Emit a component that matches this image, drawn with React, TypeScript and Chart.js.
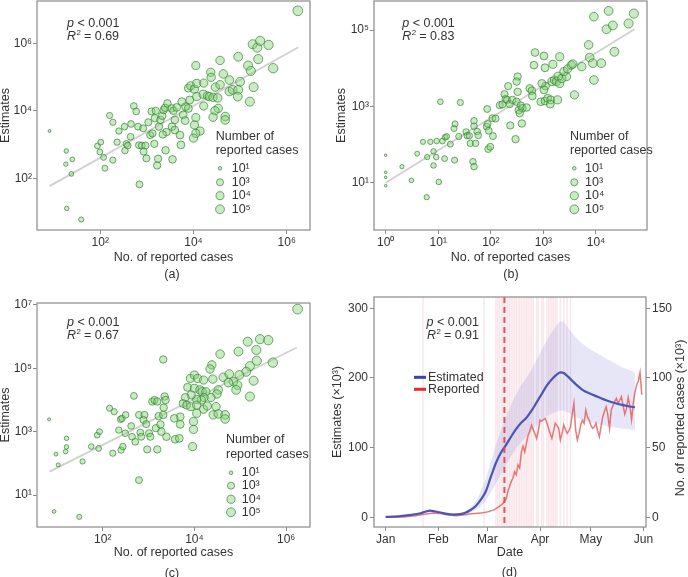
import React, { useEffect, useRef } from 'react';
import { Chart, registerables } from 'chart.js';

Chart.register(...registerables);

const FONT = '"Liberation Sans", Arial, Helvetica, sans-serif';
const TEXT = '#333333';
const FRAME = '#8a8a8a';
const FILL = 'rgba(135, 208, 120, 0.45)';
const EDGE = 'rgba(40, 125, 40, 0.72)';
const FIT = '#d0d0d0';
const BLUE = '#4a55b6';
const RED_LINE = 'rgba(226, 84, 84, 0.78)';
const BAND = 'rgba(140, 140, 215, 0.22)';

Chart.defaults.font.family = FONT;
Chart.defaults.color = TEXT;

// ---------------- panel (a): log10 values ----------------
const reportedLogA = [0.91,1.27,1.26,1.40,1.38,1.28,1.59,1.94,2.01,1.99,2.07,2.10,2.20,2.27,2.36,2.40,2.52,2.56,2.53,2.72,2.77,2.65,2.66,2.59,2.27,2.81,2.83,2.84,2.89,2.97,2.93,2.99,2.92,3.03,3.10,3.19,3.17,3.07,3.12,3.16,3.22,3.24,3.26,3.29,3.33,3.36,3.39,3.44,3.42,3.34,3.40,3.54,3.55,3.53,3.57,3.60,3.64,3.71,3.78,3.82,3.83,3.89,3.92,3.75,3.89,3.94,4.02,4.05,4.07,4.22,4.07,4.21,4.30,4.34,4.42,4.52,4.22,4.53,4.46,4.42,4.68,4.68,4.05,4.02,4.14,4.05,4.00,4.37,4.38,4.47,4.57,4.57,4.64,4.77,4.77,4.84,4.96,5.00,4.96,4.95,5.17,5.23,5.29,5.21,5.27,5.37,5.43,5.61,5.39,5.71,6.24,3.60,3.73];
const estimatesLogA = [3.40,2.81,2.42,2.56,2.13,1.11,0.78,2.96,3.07,2.78,2.62,2.30,3.86,3.66,3.07,3.40,3.53,3.02,2.82,4.14,3.98,3.23,3.61,2.97,2.54,3.53,2.98,1.82,2.97,2.97,2.79,2.59,3.48,3.66,3.98,4.00,3.78,3.28,3.33,3.02,2.38,2.58,3.53,3.73,3.85,4.02,4.09,4.22,3.37,3.30,2.83,3.53,2.56,4.07,4.00,3.73,4.10,3.28,3.88,3.71,4.12,4.07,4.32,4.27,4.67,4.74,4.64,5.34,4.81,4.82,4.42,4.49,4.44,4.42,4.40,4.38,4.14,4.07,4.00,3.81,3.83,3.73,3.80,3.58,3.40,3.33,3.19,5.14,4.99,4.70,5.49,4.77,5.09,4.91,4.57,4.62,4.62,4.86,5.60,4.42,5.34,5.18,4.70,4.27,5.97,5.87,6.07,5.95,5.53,5.26,6.96,3.43,2.99];
const fitLogAx = [0.91, 6.25];
const fitLogAy = [1.77, 5.88];
const r2A = '0.69';

// ---------------- panel (b) ----------------
const reportedLogB = [0,0,0,0,0.31,0.49,0.60,0.71,0.79,0.78,0.85,0.91,0.96,0.97,0.91,1.01,1.04,1.08,1.12,1.13,1.16,1.23,1.31,1.30,1.32,1.39,1.42,1.53,1.55,1.59,1.61,1.68,1.68,1.66,1.68,1.74,1.76,1.71,1.93,1.92,1.94,1.96,1.95,1.99,2.03,2.04,2.09,2.17,2.22,2.26,2.28,2.33,2.31,2.36,2.37,2.51,2.49,2.51,2.41,2.49,2.57,2.53,2.60,2.68,2.55,2.59,2.47,2.74,2.78,2.79,2.84,2.82,3.01,3.03,3.18,3.31,3.04,2.97,3.01,2.95,3.03,3.08,3.14,3.27,3.13,3.16,3.21,3.25,3.28,3.31,3.35,3.44,3.39,3.46,3.53,3.56,3.59,3.73,3.88,3.86,3.94,3.96,4.10,4.35,3.96,4.24,4.20,4.32,4.62,4.72];
const estimatesLogB = [1.72,1.27,1.14,0.92,1.42,1.06,1.76,2.07,1.67,0.62,2.07,1.82,1.67,2.09,1.45,1.02,3.12,2.09,1.63,2.19,2.21,2.01,1.59,2.42,2.54,2.21,3.10,2.33,2.23,2.23,2.03,2.62,2.48,1.55,1.42,2.34,2.24,2.03,2.93,2.47,2.54,2.36,1.88,1.94,2.69,2.22,2.68,3.03,3.05,3.32,3.19,3.53,3.17,3.06,2.50,3.78,3.65,3.38,3.17,3.12,3.02,2.90,2.95,2.97,2.82,2.55,2.14,3.47,3.41,3.27,4.41,4.08,4.32,4.01,4.10,4.30,3.53,3.60,3.43,3.12,3.14,3.21,3.17,3.17,3.06,3.65,3.69,3.65,3.79,3.60,3.73,3.78,3.91,3.98,4.08,4.11,3.30,4.04,4.28,4.61,4.13,3.69,4.13,4.43,5.35,5.50,5.02,5.12,5.17,5.43];
const fitLogBx = [0, 4.73];
const fitLogBy = [1.0, 5.02];
const r2B = '0.83';

// ---------------- panel (c) ----------------
const reportedLogC = [0.83,0.94,1.49,0.98,1.03,1.21,1.21,1.19,1.56,1.75,1.88,1.93,1.91,2.15,2.25,2.22,2.35,2.39,2.42,2.50,2.40,2.44,2.49,2.62,2.68,2.64,2.71,2.79,2.79,2.82,2.84,2.91,2.89,2.95,2.97,3.01,3.04,3.08,3.13,3.19,3.32,3.19,3.16,3.22,3.26,3.28,3.35,3.37,3.39,3.33,3.32,6.25,5.16,5.43,5.61,5.35,4.96,4.56,5.36,5.71,5.21,5.13,5.29,5.21,4.38,4.34,4.40,4.63,4.76,4.85,4.98,4.94,4.91,4.74,3.91,3.85,4.00,4.07,4.20,4.00,4.12,4.17,4.25,4.52,4.49,4.36,4.21,4.15,4.05,3.93,3.80,3.75,3.83,3.92,4.05,4.20,4.28,4.05,4.47,4.41,4.52,4.67,4.67,3.98,3.98,3.69,3.56,3.69,3.58,3.67,3.96];
const estimatesLogC = [3.39,0.48,0.31,2.29,1.95,2.79,2.52,2.37,2.06,2.53,2.89,3.00,2.47,3.74,3.63,2.32,3.05,3.39,3.42,3.53,2.42,2.53,2.95,3.18,4.13,2.84,2.68,1.47,3.53,2.97,2.84,3.53,3.37,3.24,2.44,2.95,2.84,3.95,4.00,3.95,5.28,2.44,3.11,3.49,3.23,3.00,4.11,4.00,2.84,3.76,3.53,6.87,5.84,5.92,5.89,5.58,5.53,5.45,5.24,5.18,5.07,4.89,4.61,4.11,5.11,4.98,4.66,4.72,4.82,4.58,4.79,4.47,4.32,4.55,4.68,4.40,4.79,4.68,4.63,4.37,4.32,4.26,4.26,4.32,4.19,4.08,4.08,4.00,4.02,4.16,4.08,3.89,3.84,3.79,3.84,3.71,3.81,3.58,3.79,3.53,3.56,3.53,3.40,3.32,3.07,3.47,3.42,3.23,2.76,2.79,2.53];
const fitLogCx = [0.84, 6.23];
const fitLogCy = [1.74, 5.66];
const r2C = '0.67';

// size legend (shared)
const legendTitleLines = ['Number of', 'reported cases'];
const legendExponents = [1, 3, 4, 5];
const legendLabels = ['10¹', '10³', '10⁴', '10⁵'];

// ---------------- panel (d) ----------------
const monthTickDays = [0, 31, 60, 91, 121, 152];
const monthLabels = ['Jan', 'Feb', 'Mar', 'Apr', 'May', 'Jun'];
const leftTicksD = [0, 100, 200, 300];
const rightTicksD = [0, 50, 100, 150];
const estDays = [0,5,10,15,20,24,26,28,30,33,36,40,44,47,50,53,56,59,62,65,68,71,74,77,80,83,86,89,92,95,98,101,103,105,107,110,113,116,120,125,130,135,140,144,147];
const estimated = [0.5,1,2,3.5,5.5,8.5,9.5,9,8,6.5,5,4,4.5,6.5,10.5,16,25,37,58,78,93,104,116,127,136,143,153,165,177,189,198,205,208,207,203,196,189,183,178,173,168,164,161,159,158];
const estUpper = [1,1.5,2.5,4,6.5,10,11,10.5,9.5,8,6.5,5.5,6.5,9.5,14,23,37,55,80,104,125,145,162,177,190,200,212,226,240,254,266,276,281,280,274,264,256,249,242,235,228,221,215,211,208];
const estLower = [0,0.5,1.5,3,4.5,7,8,7.5,6.5,5,4,3,3,4,6.5,10,16,24,36,49,62,75,88,99,108,116,124,132,139,145,149,152,153,153,151,147,143,140,137,134,131,129,127,126,125];
// daily reported cases (×10³), index = days since 1 Jan
const reportedDaily = [
  0,0,0,0.1,0.1,0.1,0.1,0.2,0.2,0.2,
  0.3,0.3,0.4,0.5,0.6,0.7,0.9,1.0,1.2,1.4,
  1.6,1.8,2.0,2.2,2.4,2.6,2.8,3.0,3.1,3.0,
  2.9,2.8,2.7,2.5,2.3,2.1,1.9,1.7,1.5,1.4,
  1.3,1.2,1.2,1.3,1.4,1.5,1.7,1.9,2.1,2.3,
  2.5,2.6,2.7,2.8,2.9,3.0,3.1,3.2,3.4,3.6,
  3.9,4.2,4.6,5.0,5.5,6.2,7.0,7.8,8.8,9.8,
  11.4,13,18.4,22,25.6,28,32.8,30.5,37.6,35.4,
  47,51,47,53,59,62,66,63,60,56.6,
  62,69.8,69,70,71,68,63.9,60,56.7,62,
  67.5,66,63.9,55.5,60,66.2,63,60.3,62,65,
  74,81.8,62.7,55.5,60,66.2,69.8,67.5,77,72,
  69.8,66,63.9,65,67.5,62,57.9,65,72.2,76,
  79.4,73.4,63.9,77,80,83,85.4,81.8,84,86.6,
  80,74,78,86,80,70,82,90,95,98,104,88,
];
const pandemicDay = 70;
const eventDays = [22,58,65,66,67,68,69,70,71,72,73,74,75,76,77,78,79,80,81,82,83,84,85,86,87,89,90,92,93,95,96,97,98,99,100,101,103,105,107,109];
const r2D = '0.91';

// ---------------- helpers ----------------
const LH = 12 * 1.2;

function drawStats(ctx: CanvasRenderingContext2D, x: number, y1: number, y2: number, r2: string, align: 'left' | 'right') {
  const it = `italic 12.5px ${FONT}`;
  const nm = `12.5px ${FONT}`;
  const sup = `8px ${FONT}`;
  ctx.save();
  ctx.fillStyle = TEXT;
  ctx.textBaseline = 'middle';
  ctx.textAlign = 'left';
  const rest1 = ' < 0.001';
  const rest2 = ' = ' + r2;
  ctx.font = it; const wp = ctx.measureText('p').width; const wR = ctx.measureText('R').width;
  ctx.font = sup; const ws = ctx.measureText('2').width;
  ctx.font = nm; const w1 = ctx.measureText(rest1).width; const w2 = ctx.measureText(rest2).width;
  const x1 = align === 'left' ? x : x - (wp + w1);
  const x2 = align === 'left' ? x : x - (wR + ws + w2);
  ctx.font = it; ctx.fillText('p', x1, y1);
  ctx.font = nm; ctx.fillText(rest1, x1 + wp, y1);
  ctx.font = it; ctx.fillText('R', x2, y2);
  ctx.font = sup; ctx.fillText('2', x2 + wR + 0.5, y2 - 4);
  ctx.font = nm; ctx.fillText(rest2, x2 + wR + ws, y2);
  ctx.restore();
}

const radiusA = (L: number) => 1.3 + 3.6 * Math.sqrt(Math.max(0, L - 0.9) / 5.4);
const radiusB = (L: number) => 1.3 + 3.3 * Math.sqrt(Math.max(0, L) / 4.7);
const radiusC = (L: number) => 1.3 + 3.6 * Math.sqrt(Math.max(0, L - 0.8) / 5.5);

type Rect = { x: number; y: number; w: number; h: number };
type Plot = { l: number; t: number; r: number; b: number };
type ScatterSpec = {
  canvas: Rect; plot: Plot;
  xs: number[]; ys: number[]; fitX: number[]; fitY: number[];
  xRange: number[]; yRange: number[];
  xTicks: number[]; xLabels: string[]; yTicks: number[]; yLabels: string[];
  radius: (L: number) => number;
  xTitleY: number; yTitleX: number;
  stats: { x: number; y1: number; y2: number; r2: string };
  legend: { tx: number; ty: number[]; cx: number; lx: number; cy: number[] };
};

const specA: ScatterSpec = {
  canvas: { x: -12, y: -12, w: 356, h: 302 }, plot: { l: 37, t: 1, r: 310, b: 230 },
  xs: reportedLogA, ys: estimatesLogA, fitX: fitLogAx, fitY: fitLogAy,
  xRange: [0.642, 6.5], yRange: [0.47, 7.25],
  xTicks: [1e2, 1e4, 1e6], xLabels: ['10²', '10⁴', '10⁶'],
  yTicks: [1e2, 1e4, 1e6], yLabels: ['10²', '10⁴', '10⁶'],
  radius: radiusA, xTitleY: 257.7, yTitleX: 5.5,
  stats: { x: 67, y1: 24, y2: 36.7, r2: r2A },
  legend: { tx: 215.7, ty: [136.7, 150.7], cx: 220, lx: 231.7, cy: [168.3, 182.3, 195.7, 209.3] },
};
const specB: ScatterSpec = {
  canvas: { x: 322, y: -12, w: 378, h: 302 }, plot: { l: 374, t: 1, r: 647, b: 230 },
  xs: reportedLogB, ys: estimatesLogB, fitX: fitLogBx, fitY: fitLogBy,
  xRange: [-0.222, 4.97], yRange: [-0.24, 5.76],
  xTicks: [1, 10, 100, 1e3, 1e4], xLabels: ['10⁰', '10¹', '10²', '10³', '10⁴'],
  yTicks: [10, 1e3, 1e5], yLabels: ['10¹', '10³', '10⁵'],
  radius: radiusB, xTitleY: 257.7, yTitleX: 341,
  stats: { x: 402.3, y1: 24, y2: 36.7, r2: r2B },
  legend: { tx: 570, ty: [136.7, 150.7], cx: 574.3, lx: 585, cy: [168.3, 182.3, 195.7, 209.3] },
};
const specC: ScatterSpec = {
  canvas: { x: -12, y: 278, w: 346, h: 311 }, plot: { l: 37, t: 303, r: 310, b: 527 },
  xs: reportedLogC, ys: estimatesLogC, fitX: fitLogCx, fitY: fitLogCy,
  xRange: [0.567, 6.52], yRange: [-0.01, 7.063],
  xTicks: [1e2, 1e4, 1e6], xLabels: ['10²', '10⁴', '10⁶'],
  yTicks: [10, 1e3, 1e5, 1e7], yLabels: ['10¹', '10³', '10⁵', '10⁷'],
  radius: radiusC, xTitleY: 553, yTitleX: 5.5,
  stats: { x: 67, y1: 322.7, y2: 336, r2: r2C },
  legend: { tx: 226, ty: [440, 454.3], cx: 231, lx: 241.7, cy: [472.7, 485.7, 499.3, 512.3] },
};

function ScatterPanel({ spec }: { spec: ScatterSpec }) {
  const ref = useRef<HTMLCanvasElement>(null);
  useEffect(() => {
    const cv = spec.canvas;
    const plot = spec.plot;
    const pts = spec.xs.map((lx, i) => ({ x: 10 ** lx, y: 10 ** spec.ys[i] }));
    const fit = spec.fitX.map((lx, i) => ({ x: 10 ** lx, y: 10 ** spec.fitY[i] }));
    const decor = {
      id: 'scatterDecor',
      afterDraw(chart: any) {
        const ctx: CanvasRenderingContext2D = chart.ctx;
        const a = chart.chartArea;
        ctx.save();
        ctx.strokeStyle = FRAME;
        ctx.lineWidth = 1.2;
        ctx.strokeRect(a.left, a.top, a.right - a.left, a.bottom - a.top);
        ctx.restore();
        const ox = cv.x, oy = cv.y;
        drawStats(ctx, spec.stats.x - ox, spec.stats.y1 - oy, spec.stats.y2 - oy, spec.stats.r2, 'left');
        const lg = spec.legend;
        ctx.save();
        ctx.fillStyle = TEXT;
        ctx.font = `12.5px ${FONT}`;
        ctx.textBaseline = 'middle';
        ctx.textAlign = 'left';
        legendTitleLines.forEach((t, i) => ctx.fillText(t, lg.tx - ox, lg.ty[i] - oy));
        legendExponents.forEach((e, i) => {
          ctx.beginPath();
          ctx.arc(lg.cx - ox, lg.cy[i] - oy, radiusA(e), 0, Math.PI * 2);
          ctx.fillStyle = FILL;
          ctx.fill();
          ctx.strokeStyle = EDGE;
          ctx.lineWidth = 0.9;
          ctx.stroke();
          ctx.fillStyle = TEXT;
          ctx.fillText(legendLabels[i], lg.lx - ox, lg.cy[i] - oy);
        });
        ctx.restore();
      },
    };
    const tickFont = { family: FONT, size: 12 };
    const chart = new Chart(ref.current as HTMLCanvasElement, {
      type: 'scatter',
      data: {
        datasets: [
          {
            data: pts, order: 1,
            pointRadius: (c: any) => spec.radius(Math.log10(c.raw.x)),
            pointBackgroundColor: FILL, pointBorderColor: EDGE, pointBorderWidth: 0.9,
          } as any,
          {
            data: fit, order: 2, showLine: true, borderColor: FIT, borderWidth: 1.8,
            pointRadius: 0, fill: false,
          } as any,
        ],
      },
      options: {
        animation: false, responsive: false, maintainAspectRatio: false, devicePixelRatio: 1,
        events: [],
        layout: { padding: { left: 0, top: plot.t - cv.y, right: cv.x + cv.w - plot.r, bottom: 0 } },
        plugins: { legend: { display: false }, tooltip: { enabled: false } },
        scales: {
          x: {
            type: 'logarithmic', position: 'bottom',
            min: 10 ** spec.xRange[0], max: 10 ** spec.xRange[1],
            afterBuildTicks: (ax: any) => { ax.ticks = spec.xTicks.map((v) => ({ value: v })); },
            afterFit: (ax: any) => { ax.height = cv.y + cv.h - plot.b; },
            ticks: { autoSkip: false, maxRotation: 0, minRotation: 0, padding: 1, color: TEXT, font: tickFont, callback: (_v: any, i: number) => spec.xLabels[i] },
            grid: { display: true, drawOnChartArea: false, drawTicks: true, tickLength: 4, color: FRAME, lineWidth: 1 },
            border: { display: false },
            title: { display: true, text: 'No. of reported cases', color: TEXT, font: { family: FONT, size: 12.5, lineHeight: 1.2 }, padding: { top: 0, bottom: cv.y + cv.h - spec.xTitleY - LH / 2 } },
          } as any,
          y: {
            type: 'logarithmic', position: 'left',
            min: 10 ** spec.yRange[0], max: 10 ** spec.yRange[1],
            afterBuildTicks: (ax: any) => { ax.ticks = spec.yTicks.map((v) => ({ value: v })); },
            afterFit: (ax: any) => { ax.width = plot.l - cv.x; },
            ticks: { autoSkip: false, padding: 1, color: TEXT, font: tickFont, callback: (_v: any, i: number) => spec.yLabels[i] },
            grid: { display: true, drawOnChartArea: false, drawTicks: true, tickLength: 4, color: FRAME, lineWidth: 1 },
            border: { display: false },
            title: { display: true, text: 'Estimates', color: TEXT, font: { family: FONT, size: 12.5, lineHeight: 1.2 }, padding: { top: spec.yTitleX - cv.x - LH / 2, bottom: 0 } },
          } as any,
        },
      },
      plugins: [decor],
    });
    return () => chart.destroy();
  }, [spec]);
  return (
    <canvas
      ref={ref}
      width={spec.canvas.w}
      height={spec.canvas.h}
      style={{ position: 'absolute', left: spec.canvas.x, top: spec.canvas.y, width: spec.canvas.w, height: spec.canvas.h }}
    />
  );
}

const canvasD: Rect = { x: 322, y: 278, w: 378, h: 311 };
const plotD: Plot = { l: 374, t: 297, r: 646, b: 527 };

function TimePanel() {
  const ref = useRef<HTMLCanvasElement>(null);
  useEffect(() => {
    const cv = canvasD;
    const plot = plotD;
    const decor = {
      id: 'timeDecor',
      beforeDatasetsDraw(chart: any) {
        const ctx: CanvasRenderingContext2D = chart.ctx;
        const a = chart.chartArea;
        const xs = chart.scales.x;
        ctx.save();
        ctx.fillStyle = 'rgba(236, 172, 188, 0.3)';
        eventDays.forEach((d) => {
          const px = xs.getPixelForValue(d);
          ctx.fillRect(px - 0.7, a.top, 1.4, a.bottom - a.top);
        });
        ctx.restore();
      },
      afterDatasetsDraw(chart: any) {
        const ctx: CanvasRenderingContext2D = chart.ctx;
        const a = chart.chartArea;
        const px = chart.scales.x.getPixelForValue(pandemicDay);
        ctx.save();
        ctx.strokeStyle = 'rgba(222, 70, 70, 0.9)';
        ctx.lineWidth = 2;
        ctx.setLineDash([6, 4]);
        ctx.beginPath();
        ctx.moveTo(px, a.top);
        ctx.lineTo(px, a.bottom);
        ctx.stroke();
        ctx.restore();
      },
      afterDraw(chart: any) {
        const ctx: CanvasRenderingContext2D = chart.ctx;
        const a = chart.chartArea;
        ctx.save();
        ctx.strokeStyle = FRAME;
        ctx.lineWidth = 1.2;
        ctx.strokeRect(a.left, a.top, a.right - a.left, a.bottom - a.top);
        ctx.restore();
        drawStats(ctx, 479 - cv.x, 322.3 - cv.y, 335.7 - cv.y, r2D, 'right');
        const items = [
          { label: chart.data.datasets[0].label, color: '#3545b5', y: 377.3 },
          { label: chart.data.datasets[1].label, color: '#ee2a22', y: 389.3 },
        ];
        ctx.save();
        ctx.font = `12.5px ${FONT}`;
        ctx.textBaseline = 'middle';
        ctx.textAlign = 'left';
        items.forEach((it) => {
          ctx.fillStyle = it.color;
          ctx.fillRect(414 - cv.x, it.y - cv.y - 1.5, 12, 3);
          ctx.fillStyle = TEXT;
          ctx.fillText(it.label, 428 - cv.x, it.y - cv.y);
        });
        ctx.translate(680.7 - cv.x, 418 - cv.y);
        ctx.rotate(-Math.PI / 2);
        ctx.textAlign = 'center';
        ctx.fillText('No. of reported cases (×10³)', 0, 0);
        ctx.restore();
      },
    };
    const tickFont = { family: FONT, size: 12 };
    const gridOpts = { display: true, drawOnChartArea: false, drawTicks: true, tickLength: 4, color: FRAME, lineWidth: 1 };
    const chart = new Chart(ref.current as HTMLCanvasElement, {
      type: 'line',
      data: {
        datasets: [
          {
            label: 'Estimated', yAxisID: 'y', order: 1,
            data: estDays.map((d, i) => ({ x: d, y: estimated[i] })),
            borderColor: BLUE, borderWidth: 2.2, pointRadius: 0, tension: 0.4, cubicInterpolationMode: 'monotone', fill: false,
          },
          {
            label: 'Reported', yAxisID: 'y2', order: 2,
            data: reportedDaily.map((v, i) => ({ x: i, y: v })),
            borderColor: RED_LINE, borderWidth: 1.5, pointRadius: 0, tension: 0, fill: false,
          },
          {
            label: 'upper', yAxisID: 'y', order: 3,
            data: estDays.map((d, i) => ({ x: d, y: estUpper[i] })),
            borderColor: 'rgba(0,0,0,0)', borderWidth: 0, pointRadius: 0, tension: 0.4, cubicInterpolationMode: 'monotone',
            fill: '+1', backgroundColor: BAND,
          },
          {
            label: 'lower', yAxisID: 'y', order: 4,
            data: estDays.map((d, i) => ({ x: d, y: estLower[i] })),
            borderColor: 'rgba(0,0,0,0)', borderWidth: 0, pointRadius: 0, tension: 0.4, cubicInterpolationMode: 'monotone', fill: false,
          },
        ] as any,
      },
      options: {
        animation: false, responsive: false, maintainAspectRatio: false, devicePixelRatio: 1,
        events: [],
        layout: { padding: { left: 0, top: plot.t - cv.y, right: 0, bottom: 0 } },
        plugins: { legend: { display: false }, tooltip: { enabled: false } },
        scales: {
          x: {
            type: 'linear', position: 'bottom', min: -6.9, max: 153.5,
            afterBuildTicks: (ax: any) => { ax.ticks = monthTickDays.map((v) => ({ value: v })); },
            afterFit: (ax: any) => { ax.height = cv.y + cv.h - plot.b; },
            ticks: { autoSkip: false, maxRotation: 0, minRotation: 0, padding: 1, color: TEXT, font: tickFont, callback: (_v: any, i: number) => monthLabels[i] },
            grid: gridOpts, border: { display: false },
            title: { display: true, text: 'Date', color: TEXT, font: { family: FONT, size: 12.5, lineHeight: 1.2 }, padding: { top: 0, bottom: cv.y + cv.h - 553.3 - LH / 2 } },
          } as any,
          y: {
            type: 'linear', position: 'left', min: -13.9, max: 316.2,
            afterBuildTicks: (ax: any) => { ax.ticks = leftTicksD.map((v) => ({ value: v })); },
            afterFit: (ax: any) => { ax.width = plot.l - cv.x; },
            ticks: { autoSkip: false, padding: 2, color: TEXT, font: tickFont, callback: (_v: any, i: number) => String(leftTicksD[i]) },
            grid: gridOpts, border: { display: false },
            title: { display: true, text: 'Estimates (×10³)', color: TEXT, font: { family: FONT, size: 12.5, lineHeight: 1.2 }, padding: { top: 337 - cv.x - LH / 2, bottom: 0 } },
          } as any,
          y2: {
            type: 'linear', position: 'right', min: -6.95, max: 158.1,
            afterBuildTicks: (ax: any) => { ax.ticks = rightTicksD.map((v) => ({ value: v })); },
            afterFit: (ax: any) => { ax.width = cv.x + cv.w - plot.r; },
            ticks: { autoSkip: false, padding: 2, color: TEXT, font: tickFont, callback: (_v: any, i: number) => String(rightTicksD[i]) },
            grid: gridOpts, border: { display: false },
            title: { display: false },
          } as any,
        },
      },
      plugins: [decor],
    });
    return () => chart.destroy();
  }, []);
  return (
    <canvas
      ref={ref}
      width={canvasD.w}
      height={canvasD.h}
      style={{ position: 'absolute', left: canvasD.x, top: canvasD.y, width: canvasD.w, height: canvasD.h }}
    />
  );
}

const captions = [
  { text: '(a)', x: 172, y: 274 },
  { text: '(b)', x: 511, y: 274 },
  { text: '(c)', x: 172, y: 573 },
  { text: '(d)', x: 509.5, y: 572 },
];

export default function App() {
  return (
    <div style={{ position: 'fixed', left: 0, top: 0, width: 688, height: 577, background: '#ffffff', overflow: 'hidden' }}>
      <ScatterPanel spec={specA} />
      <ScatterPanel spec={specB} />
      <ScatterPanel spec={specC} />
      <TimePanel />
      {captions.map((c) => (
        <div
          key={c.text}
          style={{ position: 'absolute', left: c.x - 20, top: c.y - 7, width: 40, height: 14, lineHeight: '14px', textAlign: 'center', fontFamily: FONT, fontSize: 12.5, color: TEXT }}
        >
          {c.text}
        </div>
      ))}
    </div>
  );
}
